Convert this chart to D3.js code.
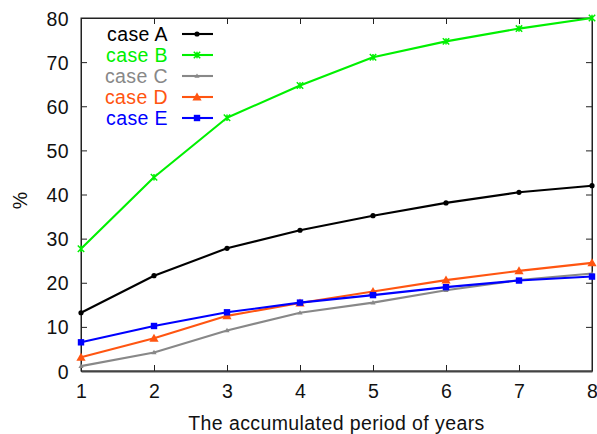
<!DOCTYPE html>
<html>
<head>
<meta charset="utf-8">
<script src="https://cdn.jsdelivr.net/npm/d3@7"></script>
<style>
  html, body { margin: 0; padding: 0; background: #fff; }
  svg text { font-family: "Liberation Sans", Arial, Helvetica, sans-serif; }
</style>
</head>
<body>
<svg id="chart" width="597" height="434"></svg>
<script>
const years = [1, 2, 3, 4, 5, 6, 7, 8];
const caseA = [13.2, 21.6, 27.8, 31.9, 35.2, 38.1, 40.5, 42.0];
const caseB = [27.7, 43.9, 57.4, 64.7, 71.1, 74.7, 77.6, 80.0];
const caseC = [1.1, 4.2, 9.2, 13.2, 15.5, 18.3, 20.6, 22.1];
const caseD = [3.1, 7.4, 12.5, 15.4, 18.0, 20.6, 22.7, 24.5];
const caseE = [6.5, 10.2, 13.3, 15.5, 17.2, 19.0, 20.5, 21.4];
const seriesNames = ["case A", "case B", "case C", "case D", "case E"];
const yTicks = [0, 10, 20, 30, 40, 50, 60, 70, 80];
const xTicks = [1, 2, 3, 4, 5, 6, 7, 8];

const colors = ["#000000", "#00f000", "#888888", "#ff5511", "#0000ff"];
const markers = ["circle", "star", "smalltri", "tri", "square"];
const seriesValues = [caseA, caseB, caseC, caseD, caseE];

const W = 597, H = 434;
const margin = {left: 81, right: 5, top: 18, bottom: 63};
const svg = d3.select("#chart");
const x = d3.scaleLinear().domain([1, 8]).range([margin.left, W - margin.right]);
const y = d3.scaleLinear().domain([0, 80]).range([H - margin.bottom, margin.top]);
const fontSize = 19.5;
const ls = "0.4px";

// frame
svg.append("rect")
  .attr("x", x(1)).attr("y", y(80))
  .attr("width", x(8) - x(1)).attr("height", y(0) - y(80))
  .attr("fill", "none").attr("stroke", "#222").attr("stroke-width", 1);

// axes with inward ticks
const gL = svg.append("g").attr("transform", `translate(${x(1)},0)`)
  .call(d3.axisLeft(y).tickValues(yTicks).tickSizeInner(-6).tickSizeOuter(0).tickPadding(12));
const gR = svg.append("g").attr("transform", `translate(${x(8)},0)`)
  .call(d3.axisRight(y).tickValues(yTicks).tickSizeInner(-6).tickSizeOuter(0).tickFormat(""));
const gB = svg.append("g").attr("transform", `translate(0,${y(0)})`)
  .call(d3.axisBottom(x).tickValues(xTicks).tickSizeInner(-6).tickSizeOuter(0).tickPadding(13).tickFormat(d3.format("d")));
const gT = svg.append("g").attr("transform", `translate(0,${y(80)})`)
  .call(d3.axisTop(x).tickValues(xTicks).tickSizeInner(-6).tickSizeOuter(0).tickFormat(""));
[gL, gR, gB, gT].forEach(g => {
  g.select(".domain").attr("stroke", "#222");
  g.selectAll(".tick line").attr("stroke", "#222");
  g.selectAll(".tick text").attr("font-size", fontSize).attr("fill", "#111")
    .style("letter-spacing", ls)
    .attr("font-family", '"Liberation Sans", Arial, sans-serif');
});
gB.select(".domain").attr("stroke-width", 2).attr("stroke", "#444");
gL.selectAll(".tick text").attr("dy", "0.36em");

// axis titles
svg.append("text")
  .attr("x", (x(1) + x(8)) / 2).attr("y", 430)
  .attr("text-anchor", "middle").attr("font-size", fontSize).attr("fill", "#111")
  .style("letter-spacing", ls)
  .text("The accumulated period of years");
svg.append("text")
  .attr("transform", `translate(27,${(y(0) + y(80)) / 2 + 6}) rotate(-90)`)
  .attr("text-anchor", "middle").attr("font-size", fontSize).attr("fill", "#111")
  .text("%");

function drawMarker(g, type, cx, cy, color) {
  if (type === "circle") {
    g.append("circle").attr("cx", cx).attr("cy", cy).attr("r", 2.6).attr("fill", color);
  } else if (type === "star") {
    const s = 3.2;
    g.append("path")
      .attr("d", `M${cx - s},${cy - s}L${cx + s},${cy + s}M${cx - s},${cy + s}L${cx + s},${cy - s}M${cx},${cy - s}L${cx},${cy + s}`)
      .attr("stroke", color).attr("stroke-width", 1.5).attr("fill", "none");
  } else if (type === "smalltri") {
    const s = 2.6;
    g.append("path")
      .attr("d", `M${cx},${cy - s}L${cx + s},${cy + s * 0.7}L${cx - s},${cy + s * 0.7}Z`)
      .attr("fill", color);
  } else if (type === "tri") {
    const s = 4.6;
    g.append("path")
      .attr("d", `M${cx},${cy - s}L${cx + s},${cy + s * 0.75}L${cx - s},${cy + s * 0.75}Z`)
      .attr("fill", color);
  } else if (type === "square") {
    const s = 3.2;
    g.append("rect").attr("x", cx - s).attr("y", cy - s).attr("width", 2 * s).attr("height", 2 * s).attr("fill", color);
  }
}

const line = d3.line().x((d, i) => x(years[i])).y(d => y(d));
const plot = svg.append("g");
seriesValues.forEach((vals, si) => {
  const g = plot.append("g");
  g.append("path").datum(vals).attr("d", line)
    .attr("fill", "none").attr("stroke", colors[si]).attr("stroke-width", 2.1)
    .attr("stroke-linejoin", "round");
  vals.forEach((v, i) => drawMarker(g, markers[si], x(years[i]), y(v), colors[si]));
});

// legend
const legY0 = 34, legDY = 21;
seriesNames.forEach((name, si) => {
  const cy = legY0 + si * legDY;
  svg.append("text").attr("x", 168).attr("y", cy + 7)
    .attr("text-anchor", "end").attr("font-size", fontSize).attr("fill", colors[si])
    .style("letter-spacing", ls)
    .text(name);
  svg.append("line").attr("x1", 182).attr("x2", 213).attr("y1", cy).attr("y2", cy)
    .attr("stroke", colors[si]).attr("stroke-width", 2.1);
  drawMarker(svg, markers[si], 197, cy, colors[si]);
});
</script>
</body>
</html>
